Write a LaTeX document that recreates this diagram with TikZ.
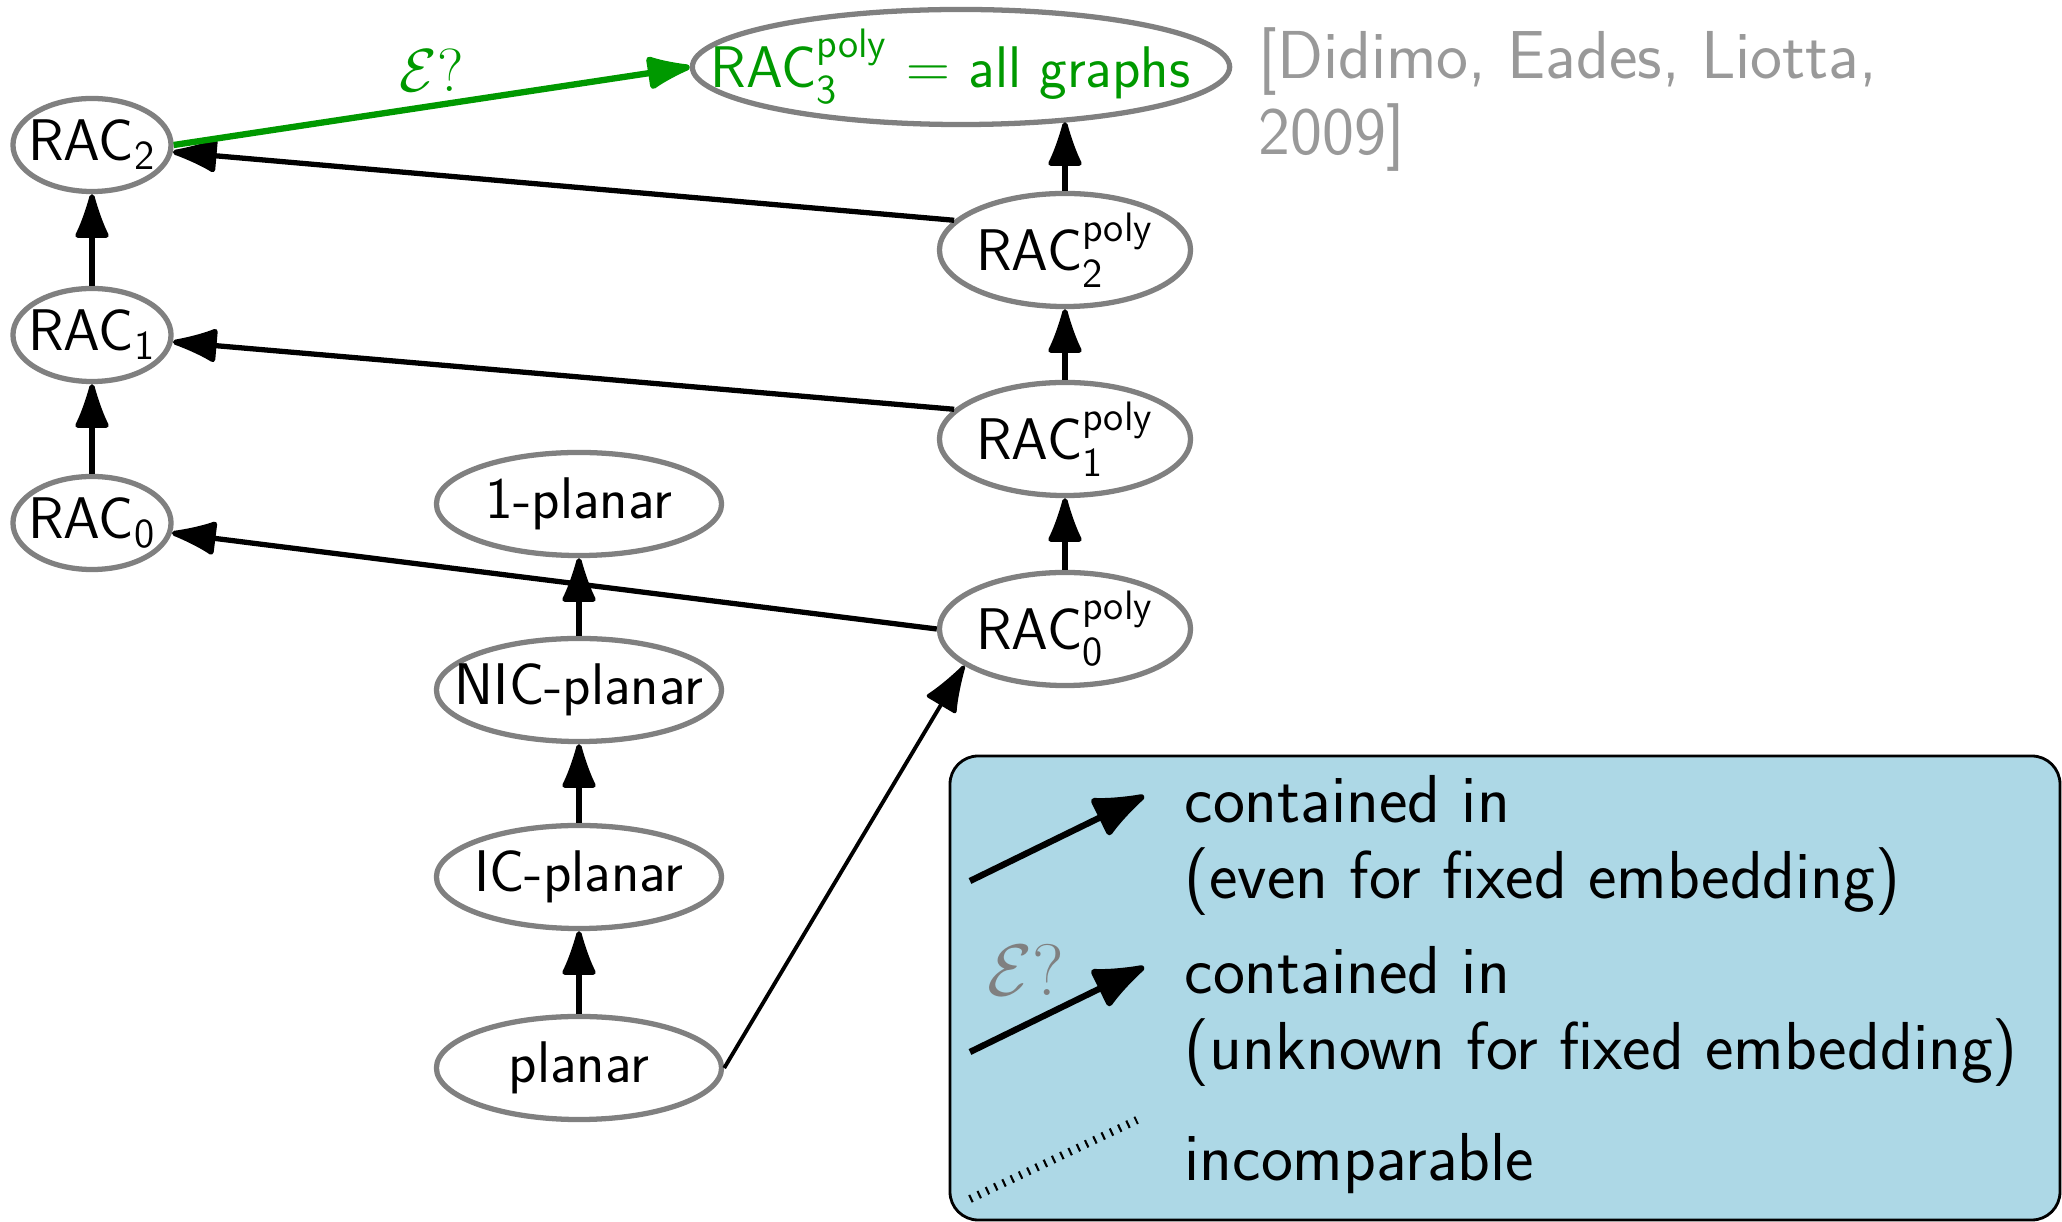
\documentclass[tikz,border=0pt]{standalone}
\usepackage{amsmath}
\usepackage{fontspec}
\usepackage{tikz}
\usetikzlibrary{shapes.geometric}
\usetikzlibrary {arrows.meta}

\definecolor{legendblue}{RGB}{173,216,230}
\definecolor{unkgreen}{RGB}{0,153,0}

\begin{document}
\begin{tikzpicture}[
x=0.01cm, y=-0.01cm,
every node/.style={font=\sffamily\fontsize{16.7}{19}\selectfont},
cls/.style={ellipse, draw=black!50, line width=1.5pt, inner sep=-1cm},
rac/.style={cls, minimum width=1.58cm, minimum height=0.93cm},
poly/.style={cls, minimum width=2.51cm, minimum height=1.13cm},
pl/.style={cls, minimum width=2.85cm, minimum height=1.03cm},
sub/.style={-{Latex[length=15pt,width=10.5pt,round]}, line width=1.5pt},
legarrow/.style={-{Latex[length=17pt,width=13pt,round]}, line width=1.8pt},
big/.style={font=\sffamily\fontsize{19.3}{21.6}\selectfont, inner sep=0pt}
]
\useasboundingbox (0,0) rectangle (2062,1222);

\node[rac] (r2) at (92,145) {RAC$_{\text{2}}$};
\node[rac] (r1) at (92,335) {RAC$_{\text{1}}$};
\node[rac] (r0) at (92,523) {RAC$_{\text{0}}$};

\node[cls, minimum width=5.37cm, minimum height=1.15cm, text=unkgreen] (p3) at (961,67)
    {RAC$^{\text{poly}}_{\text{3}}$ $=$ all graphs\kern6pt};
\node[poly] (p2) at (1065,250) {RAC$^{\text{poly}}_{\text{2}}$};
\node[poly] (p1) at (1065,439) {RAC$^{\text{poly}}_{\text{1}}$};
\node[poly] (p0) at (1065,629) {RAC$^{\text{poly}}_{\text{0}}$};

\node[pl] (one) at (579,504) {1-planar};
\node[pl] (nic) at (579,690) {NIC-planar};
\node[pl] (ic) at (579,877) {IC-planar};
\node[pl] (planar) at (579,1068) {planar};

\node[big, align=left, anchor=west, text=black!40] (cite) at (1258,100)
    {[Didimo, Eades, Liotta,\\2009]};

\draw[sub] (r0) -- (r1);
\draw[sub] (r1) -- (r2);
\draw[sub] (p0) -- (p1);
\draw[sub] (p1) -- (p2);
\draw[sub] (p2) -- (p2 |- p3.333);
\draw[sub] (planar) -- (ic);
\draw[sub] (ic) -- (nic);
\draw[sub] (nic) -- (one);
\draw[sub] (p2.165) -- (r2);
\draw[sub] (p1.165) -- (r1);
\draw[sub] (p0.west) -- (r0);
\draw[sub, line width=1.1pt] (planar.east) -- (p0.200);
\draw[sub, draw=unkgreen, fill=unkgreen, line width=1.8pt] (r2.east)
    -- node[midway, above, text=unkgreen] (unk) {$\mathcal{E}?$} (p3.west);

\draw[fill=legendblue, rounded corners=8pt, line width=0.8pt] (950,756) rectangle (2060,1220);
\coordinate (a1) at (970,881);
\coordinate (b1) at (1144,796);
\coordinate (a2) at (970,1052);
\coordinate (b2) at (1144,967);
\coordinate (a3) at (970,1199);
\coordinate (b3) at (1137,1120);
\draw[legarrow] (a1) -- (b1);
\draw[legarrow] (a2) -- (b2);
\draw[line width=2.3pt, dash pattern=on 0.6pt off 2pt] (a3) -- (b3);
\node[big, text=black!50] (unklegend) at (1026,970) {$\mathcal{E}?$};
\node[big, align=left, anchor=west] (leg1) at (1184,845)
    {contained in\\(even for fixed embedding)};
\node[big, align=left, anchor=west] (leg2) at (1184,1016)
    {contained in\\(unknown for fixed embedding)};
\node[big, anchor=west] (leg3) at (1184,1164) {incomparable};
\end{tikzpicture}
\end{document}
